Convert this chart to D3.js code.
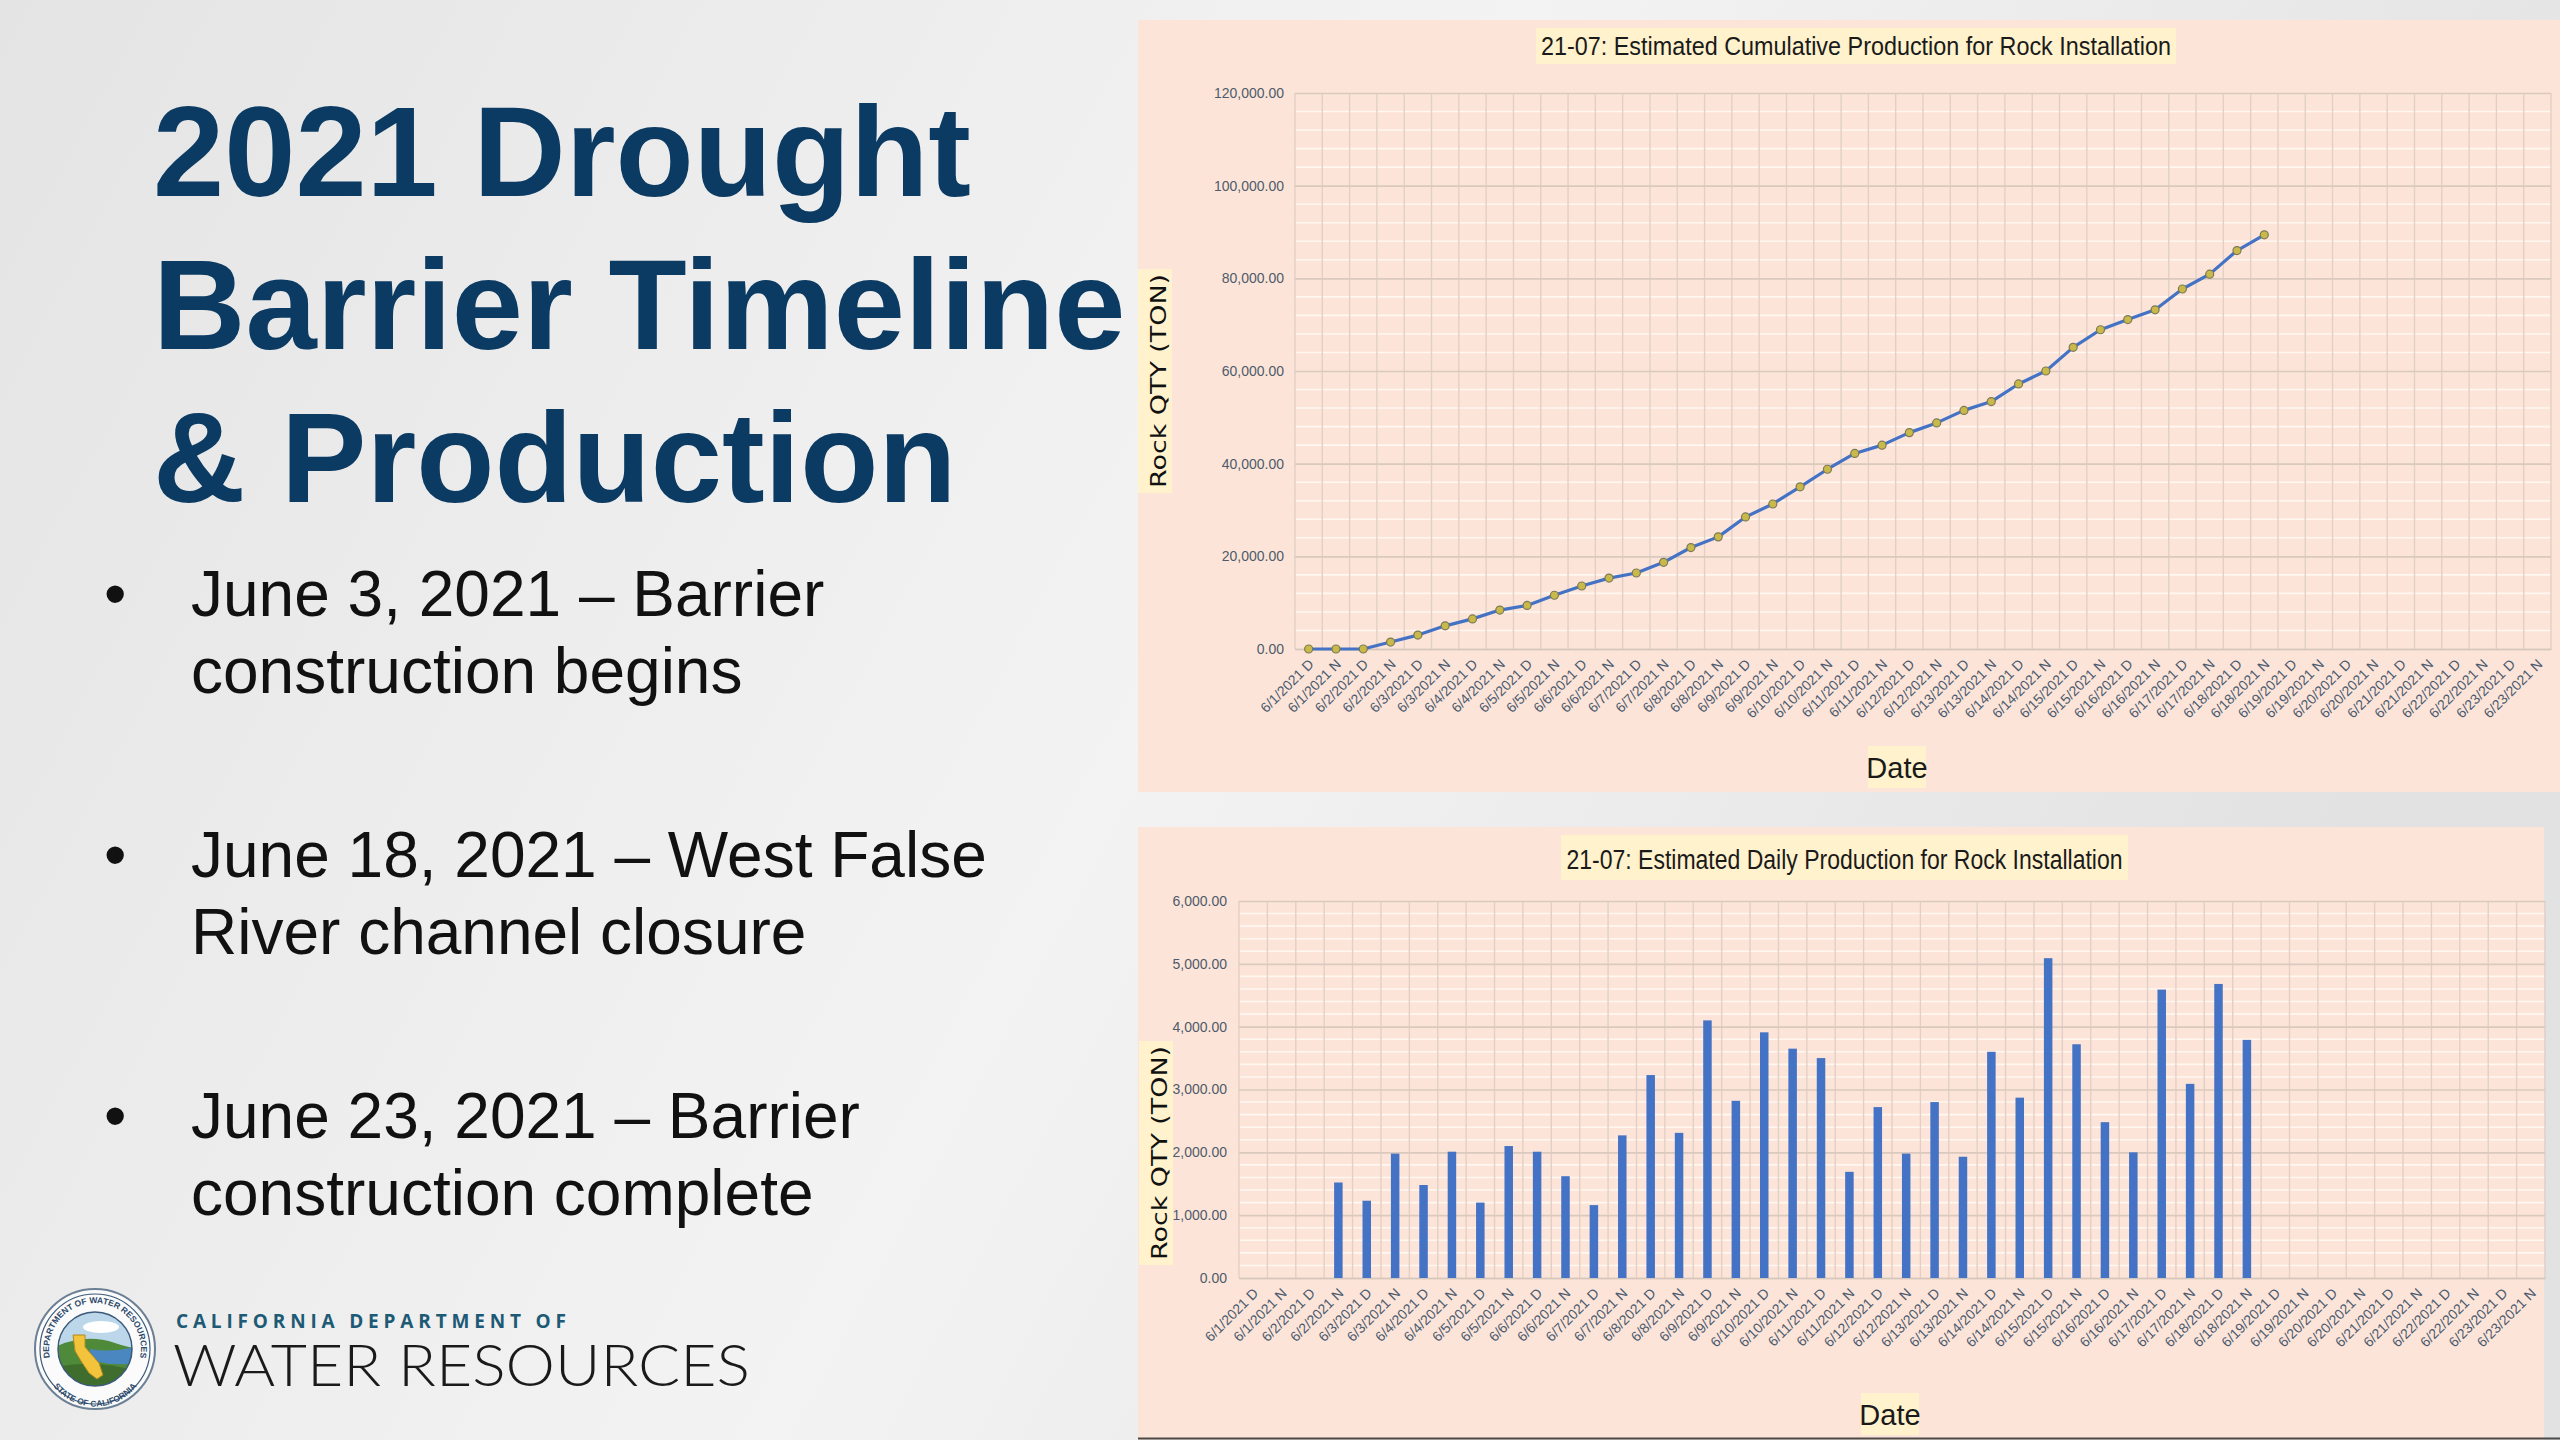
<!DOCTYPE html>
<html>
<head>
<meta charset="utf-8">
<script src="https://cdn.jsdelivr.net/npm/d3@7/dist/d3.min.js"></script>
<style>
  html, body { margin: 0; padding: 0; background: #ebebeb; }
  svg { display: block; }
</style>
</head>
<body>
<svg id="slide" width="2560" height="1440"></svg>
<script>
// ---------------- DATA ----------------
const categories = [
  "6/1/2021 D","6/1/2021 N","6/2/2021 D","6/2/2021 N","6/3/2021 D","6/3/2021 N",
  "6/4/2021 D","6/4/2021 N","6/5/2021 D","6/5/2021 N","6/6/2021 D","6/6/2021 N",
  "6/7/2021 D","6/7/2021 N","6/8/2021 D","6/8/2021 N","6/9/2021 D","6/9/2021 N",
  "6/10/2021 D","6/10/2021 N","6/11/2021 D","6/11/2021 N","6/12/2021 D","6/12/2021 N",
  "6/13/2021 D","6/13/2021 N","6/14/2021 D","6/14/2021 N","6/15/2021 D","6/15/2021 N",
  "6/16/2021 D","6/16/2021 N","6/17/2021 D","6/17/2021 N","6/18/2021 D","6/18/2021 N",
  "6/19/2021 D","6/19/2021 N","6/20/2021 D","6/20/2021 N","6/21/2021 D","6/21/2021 N",
  "6/22/2021 D","6/22/2021 N","6/23/2021 D","6/23/2021 N"
];
// cumulative production (tons)
const cumulativeValues = [
  0, 0, 0, 1500, 3000, 5000, 6500, 8400, 9400, 11600, 13600, 15300,
  16400, 18700, 21900, 24200, 28500, 31300, 35000, 38800, 42200, 44000, 46700, 48800,
  51500, 53400, 57200, 60000, 65100, 68900, 71100, 73200, 77700, 80900, 86000, 89400
];
// daily production (tons)
const dailyValues = [
  0, 0, 0, 1520, 1230, 1980, 1480, 2010, 1200, 2100, 2010, 1620,
  1160, 2270, 3230, 2310, 4100, 2820, 3910, 3650, 3500, 1690, 2720, 1980,
  2800, 1930, 3600, 2870, 5090, 3720, 2480, 2000, 4590, 3090, 4680, 3790
];
const cumulativeTicks = [0, 20000, 40000, 60000, 80000, 100000, 120000];
const dailyTicks = [0, 1000, 2000, 3000, 4000, 5000, 6000];

const slideTitle = ["2021 Drought", "Barrier Timeline", "& Production"];
const bullets = [
  ["June 3, 2021 \u2013 Barrier", "construction begins"],
  ["June 18, 2021 \u2013 West False", "River channel closure"],
  ["June 23, 2021 \u2013 Barrier", "construction complete"]
];
const chartTitles = [
  "21-07: Estimated Cumulative Production for Rock Installation",
  "21-07: Estimated Daily Production for Rock Installation"
];

// ---------------- SLIDE ----------------
const svg = d3.select("#slide");
const defs = svg.append("defs");
const bgGrad = defs.append("linearGradient").attr("id", "bgGrad")
  .attr("x1", "0").attr("y1", "0").attr("x2", "1").attr("y2", "0.3");
bgGrad.append("stop").attr("offset", "0").attr("stop-color", "#e4e4e4");
bgGrad.append("stop").attr("offset", "0.35").attr("stop-color", "#eeeeee");
bgGrad.append("stop").attr("offset", "0.55").attr("stop-color", "#f3f3f3");
bgGrad.append("stop").attr("offset", "1").attr("stop-color", "#e2e2e2");
svg.append("rect").attr("width", 2560).attr("height", 1440).attr("fill", "url(#bgGrad)");

const sans = "'Liberation Sans', Arial, Helvetica, sans-serif";
const narrow = "'Liberation Sans Narrow', 'Liberation Sans', Arial, sans-serif";

// Title
svg.append("g").selectAll("text").data(slideTitle).join("text")
  .attr("x", 153).attr("y", (d, i) => 196 + i * 153)
  .attr("font-family", sans).attr("font-weight", "bold")
  .attr("font-size", 128).attr("fill", "#0b3a62")
  .text(d => d);

// Bullets
const bulletG = svg.append("g");
bullets.forEach((b, i) => {
  const y0 = 616 + i * 261;
  bulletG.append("text").attr("x", 104).attr("y", y0)
    .attr("font-family", sans).attr("font-size", 64).attr("fill", "#111").text("\u2022");
  b.forEach((line, j) => {
    bulletG.append("text").attr("x", 191).attr("y", y0 + j * 77)
      .attr("font-family", sans).attr("font-size", 64).attr("fill", "#111").text(line);
  });
});

// Logo (simplified seal)
const logo = svg.append("g").attr("transform", "translate(95,1349)");
logo.append("circle").attr("r", 60).attr("fill", "#fbfbfb").attr("stroke", "#6b7f95").attr("stroke-width", 2);
logo.append("circle").attr("r", 55).attr("fill", "none").attr("stroke", "#3c5a7a").attr("stroke-width", 1.2);
defs.append("path").attr("id", "ringTop").attr("d", "M -41.6,19.4 A 45.9,45.9 0 1,1 41.6,19.4");
defs.append("path").attr("id", "ringBot").attr("d", "M -45,32.5 A 53,53 0 0,0 45,32.5");
logo.append("text").attr("font-family", sans).attr("font-size", 8.5).attr("font-weight", "bold")
  .attr("fill", "#2d4a6b").append("textPath").attr("href", "#ringTop")
  .attr("startOffset", "50%").attr("text-anchor", "middle").text("DEPARTMENT OF WATER RESOURCES");
logo.append("text").attr("font-family", sans).attr("font-size", 8.5).attr("font-weight", "bold")
  .attr("fill", "#2d4a6b").append("textPath").attr("href", "#ringBot")
  .attr("startOffset", "50%").attr("text-anchor", "middle").text("STATE OF CALIFORNIA");
const sealClip = defs.append("clipPath").attr("id", "sealClip");
sealClip.append("circle").attr("r", 37);
const inner = logo.append("g").attr("clip-path", "url(#sealClip)");
inner.append("rect").attr("x", -40).attr("y", -40).attr("width", 80).attr("height", 80).attr("fill", "#bcd6ea");
inner.append("ellipse").attr("cx", 6).attr("cy", -22).attr("rx", 18).attr("ry", 6).attr("fill", "#ffffff");
inner.append("path").attr("d", "M -40,-2 Q -10,-16 20,-6 T 40,-8 L 40,40 L -40,40 Z").attr("fill", "#4f8a3a");
inner.append("path").attr("d", "M -5,0 Q 15,4 40,-2 L 40,14 Q 15,18 -5,10 Z").attr("fill", "#4a86c0");
inner.append("path").attr("d", "M -40,18 Q 0,10 40,22 L 40,40 L -40,40 Z").attr("fill", "#3f6d2e");
inner.append("path").attr("d", "M -22,-14 L -10,-14 L -10,-2 L 4,14 L 8,26 L 2,30 L -6,24 L -14,12 L -20,2 Z")
  .attr("fill", "#f3c33b").attr("stroke", "#b08a20").attr("stroke-width", 1);
logo.append("circle").attr("r", 37).attr("fill", "none").attr("stroke", "#3c5a7a").attr("stroke-width", 1.5);

svg.append("text").attr("x", 176).attr("y", 1328)
  .attr("font-family", "'Open Sans', " + sans).attr("font-weight", "bold").attr("font-size", 19)
  .attr("fill", "#1d5a75").attr("textLength", 390).attr("lengthAdjust", "spacing")
  .text("CALIFORNIA DEPARTMENT OF");
svg.append("text").attr("x", 173).attr("y", 1386)
  .attr("font-family", "Lato, 'Open Sans', sans-serif").attr("font-weight", 300).attr("font-size", 58)
  .attr("fill", "#1a1a1a").attr("textLength", 577).attr("lengthAdjust", "spacingAndGlyphs")
  .text("WATER RESOURCES");

// ---------------- CHART HELPERS ----------------
const panelFill = "#fce5d8";
const boxFill = "#fff2cc";
const lineBlue = "#4472c4";

function drawPanel(cfg) {
  const g = svg.append("g");
  g.append("rect").attr("x", cfg.panel[0]).attr("y", cfg.panel[1])
    .attr("width", cfg.panel[2]).attr("height", cfg.panel[3]).attr("fill", panelFill);

  const x = d3.scaleBand().domain(categories).range([cfg.left, cfg.right]).padding(0);
  const y = d3.scaleLinear().domain([0, cfg.max]).range([cfg.bottom, cfg.top]);

  // minor horizontal gridlines (white)
  const minor = d3.range(0, cfg.max + 1e-9, cfg.minorStep).filter(v => cfg.ticks.indexOf(v) < 0);
  g.append("g").selectAll("line").data(minor).join("line")
    .attr("x1", cfg.left).attr("x2", cfg.right)
    .attr("y1", d => y(d)).attr("y2", d => y(d))
    .attr("stroke", "#fff7f0").attr("stroke-width", 1.6);

  // vertical category gridlines
  const bounds = categories.map(c => x(c)).concat([cfg.right]);
  g.append("g").selectAll("line").data(bounds).join("line")
    .attr("x1", d => d).attr("x2", d => d)
    .attr("y1", cfg.top).attr("y2", cfg.bottom)
    .attr("stroke", "#e2d0c6").attr("stroke-width", 1.4);

  // major horizontal gridlines via axis
  const yAxis = d3.axisLeft(y).tickValues(cfg.ticks).tickFormat(d3.format(",.2f"))
    .tickSize(-(cfg.right - cfg.left)).tickPadding(cfg.left - cfg.labelRight);
  const ya = g.append("g").attr("transform", `translate(${cfg.left},0)`).call(yAxis);
  ya.select(".domain").remove();
  ya.selectAll(".tick line").attr("stroke", "#dac9bf").attr("stroke-width", 1.6);
  ya.selectAll(".tick text").attr("font-family", narrow).attr("font-size", 14)
    .attr("fill", "#4f5a6a");

  // x axis labels
  const xAxis = d3.axisBottom(x).tickSize(0).tickPadding(0);
  const xa = g.append("g").attr("transform", `translate(0,${cfg.bottom})`).call(xAxis);
  xa.select(".domain").attr("stroke", "#d6c6bd").attr("stroke-width", 1.5);
  xa.selectAll(".tick text")
    .attr("font-family", narrow).attr("font-size", 14).attr("fill", "#4b5a70")
    .attr("text-anchor", "end").attr("dy", 0).attr("y", 0)
    .attr("transform", "translate(6,16) rotate(-45)");

  // chart title with box
  g.append("rect").attr("x", cfg.titleBox[0]).attr("y", cfg.titleBox[1])
    .attr("width", cfg.titleBox[2]).attr("height", cfg.titleBox[3]).attr("fill", boxFill);
  g.append("text").attr("x", cfg.titleBox[0] + cfg.titleBox[2] / 2).attr("y", cfg.titleBase)
    .attr("text-anchor", "middle").attr("font-family", narrow).attr("font-size", cfg.titleSize)
    .attr("fill", "#1a1a1a").attr("textLength", cfg.titleLen).attr("lengthAdjust", "spacingAndGlyphs")
    .text(cfg.title);

  // x axis title "Date"
  g.append("rect").attr("x", cfg.dateX - 29).attr("y", cfg.dateBase - 32)
    .attr("width", 58).attr("height", 42).attr("fill", boxFill);
  g.append("text").attr("x", cfg.dateX).attr("y", cfg.dateBase)
    .attr("text-anchor", "middle").attr("font-family", narrow).attr("font-size", 29)
    .attr("fill", "#1a1a1a").text("Date");

  // y axis title
  const yt = g.append("g").attr("transform", `translate(${cfg.yTitleX},${cfg.yTitleY}) rotate(-90)`);
  yt.append("rect").attr("x", -112).attr("y", -20).attr("width", 224).attr("height", 34).attr("fill", boxFill);
  yt.append("text").attr("x", 0).attr("y", 8).attr("text-anchor", "middle")
    .attr("font-family", "'DejaVu Sans', Verdana, sans-serif").attr("font-size", 22)
    .attr("fill", "#111").attr("textLength", 214).attr("lengthAdjust", "spacingAndGlyphs")
    .text("Rock QTY (TON)");

  return { g, x, y };
}

// ---------------- TOP: CUMULATIVE LINE ----------------
const cumChart = drawPanel({
  panel: [1138, 20, 1422, 772],
  left: 1295, right: 2551, top: 93, bottom: 649,
  max: 120000, ticks: cumulativeTicks, minorStep: 4000, labelRight: 1284,
  titleBox: [1536, 28, 640, 36], titleBase: 55, titleSize: 25, titleLen: 630,
  title: chartTitles[0],
  dateX: 1897, dateBase: 778,
  yTitleX: 1158, yTitleY: 381
});
const cumData = cumulativeValues.map((v, i) => ({ c: categories[i], v }));
const cumLine = d3.line().x(d => cumChart.x(d.c) + cumChart.x.bandwidth() / 2).y(d => cumChart.y(d.v));
cumChart.g.append("path").datum(cumData).attr("d", cumLine)
  .attr("fill", "none").attr("stroke", lineBlue).attr("stroke-width", 3.2)
  .attr("stroke-linejoin", "round");
cumChart.g.append("g").selectAll("circle").data(cumData).join("circle")
  .attr("cx", d => cumChart.x(d.c) + cumChart.x.bandwidth() / 2).attr("cy", d => cumChart.y(d.v))
  .attr("r", 4).attr("fill", "#c9b94a").attr("stroke", "#7d7a55").attr("stroke-width", 1.2);

// ---------------- BOTTOM: DAILY BARS ----------------
const dayChart = drawPanel({
  panel: [1138, 827, 1406, 613],
  left: 1239, right: 2545, top: 901, bottom: 1278,
  max: 6000, ticks: dailyTicks, minorStep: 200, labelRight: 1227,
  titleBox: [1561, 835, 567, 45], titleBase: 869, titleSize: 27, titleLen: 556,
  title: chartTitles[1],
  dateX: 1890, dateBase: 1425,
  yTitleX: 1159, yTitleY: 1153
});
const dayData = dailyValues.map((v, i) => ({ c: categories[i], v })).filter(d => d.v > 0);
const barW = 8.5;
dayChart.g.append("g").selectAll("rect").data(dayData).join("rect")
  .attr("x", d => dayChart.x(d.c) + dayChart.x.bandwidth() / 2 - barW / 2)
  .attr("width", barW)
  .attr("y", d => dayChart.y(d.v))
  .attr("height", d => dayChart.y(0) - dayChart.y(d.v))
  .attr("fill", lineBlue);
svg.append("line").attr("x1", 1138).attr("x2", 2560).attr("y1", 1438.5).attr("y2", 1438.5)
  .attr("stroke", "#4a4a4a").attr("stroke-width", 2);
</script>
</body>
</html>
